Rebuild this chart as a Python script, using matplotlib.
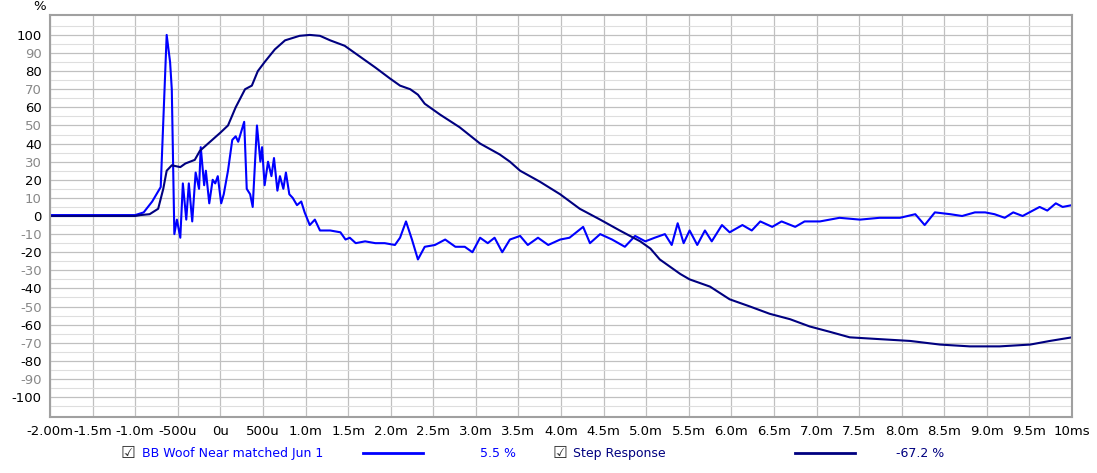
import matplotlib
matplotlib.use('Agg')
import matplotlib.pyplot as plt
import numpy as np

# impulse response (blue), time in ms, value in %
imp_t = [-2.0, -1.5, -1.0, -0.9, -0.8, -0.70, -0.63, -0.59, -0.57, -0.54, -0.51, -0.47, -0.44,
         -0.40, -0.37, -0.33, -0.29, -0.25, -0.23, -0.19, -0.17, -0.13, -0.09, -0.06, -0.03,
         0.01, 0.04, 0.09, 0.14, 0.18, 0.21, 0.28, 0.31, 0.35, 0.38, 0.43, 0.47, 0.49, 0.52,
         0.56, 0.60, 0.63, 0.67, 0.70, 0.74, 0.77, 0.81, 0.85, 0.90, 0.95, 0.99, 1.05, 1.11,
         1.17, 1.29, 1.41, 1.47, 1.52, 1.59, 1.70, 1.82, 1.93, 2.05, 2.11, 2.18, 2.25, 2.32,
         2.40, 2.52, 2.64, 2.76, 2.87, 2.96, 3.05, 3.14, 3.22, 3.31, 3.40, 3.52, 3.61, 3.73,
         3.85, 3.99, 4.10, 4.26, 4.34, 4.46, 4.60, 4.75, 4.87, 4.99, 5.10, 5.22, 5.30, 5.37,
         5.44, 5.51, 5.60, 5.69, 5.77, 5.89, 5.98, 6.13, 6.24, 6.34, 6.48, 6.59, 6.75, 6.86,
         7.04, 7.27, 7.51, 7.74, 7.98, 8.16, 8.27, 8.39, 8.57, 8.71, 8.86, 8.98, 9.09, 9.21,
         9.31, 9.42, 9.54, 9.62, 9.71, 9.81, 9.89, 10.0]
imp_v = [0.5, 0.5, 0.5, 2, 8, 16, 100, 85, 70, -10, -2, -12, 18,
         -2, 18, -3, 24, 15, 38, 17, 25, 7, 20, 18, 22,
         7, 12, 25, 42, 44, 41, 52, 15, 12, 5, 50, 30, 38, 17,
         30, 22, 32, 14, 22, 15, 24, 12, 10, 6, 8, 2, -5, -2,
         -8, -8, -9, -13, -12, -15, -14, -15, -15, -16, -12, -3, -13, -24,
         -17, -16, -13, -17, -17, -20, -12, -15, -12, -20, -13, -11, -16, -12,
         -16, -13, -12, -6, -15, -10, -13, -17, -11, -14, -12, -10, -16, -4,
         -15, -8, -16, -8, -14, -5, -9, -5, -8, -3, -6, -3, -6, -3,
         -3, -1, -2, -1, -1, 1, -5, 2, 1, 0, 2, 2, 1, -1,
         2, 0, 3, 5, 3, 7, 5, 6]

# step response (navy)
step_t = [-2.0, -1.0, -0.94, -0.83, -0.73, -0.67, -0.63, -0.57, -0.47, -0.41, -0.30, -0.24,
          -0.12, 0.0, 0.09, 0.18, 0.29, 0.37, 0.44, 0.52, 0.64, 0.76, 0.93, 1.05, 1.17, 1.29,
          1.46, 1.64, 1.82, 1.99, 2.11, 2.23, 2.32, 2.40, 2.58, 2.81, 3.05, 3.28, 3.40, 3.52,
          3.75, 3.99, 4.22, 4.46, 4.69, 4.93, 5.05, 5.16, 5.28, 5.40, 5.51, 5.75, 5.98, 6.22,
          6.45, 6.69, 6.92, 7.16, 7.39, 7.74, 8.10, 8.45, 8.80, 9.15, 9.51, 9.74, 10.0]
step_v = [0, 0, 0.5, 1, 4, 15, 25, 28, 27, 29, 31, 36,
          41, 46, 50, 60, 70, 72, 80, 85, 92, 97, 99.5, 100, 99.5, 97,
          94, 88, 82, 76, 72, 70, 67, 62, 56, 49, 40, 34, 30, 25,
          19, 12, 4, -2, -8, -14, -18, -24, -28, -32, -35, -39, -46, -50,
          -54, -57, -61, -64, -67, -68, -69, -71, -72, -72, -71, -69, -67]

x_ticks = np.arange(-2.0, 10.01, 0.5)
x_labels = ['-2.00m', '-1.5m', '-1.0m', '-500u', '0u', '500u', '1.0m', '1.5m', '2.0m', '2.5m',
            '3.0m', '3.5m', '4.0m', '4.5m', '5.0m', '5.5m', '6.0m', '6.5m', '7.0m', '7.5m',
            '8.0m', '8.5m', '9.0m', '9.5m', '10ms']

fig = plt.figure(figsize=(10.97, 4.73), dpi=100)
ax = fig.add_axes([50/1097, 56/473, 1022/1097, 402/473])

ax.plot(imp_t, imp_v, color='#0000ff', lw=1.5)
ax.plot(step_t, step_v, color='#000080', lw=1.5)

ax.set_xlim(-2.0, 10.0)
ax.set_ylim(-111, 111)
ax.set_xticks(x_ticks)
ax.set_xticklabels(x_labels, fontsize=9.5)
ax.set_yticks(np.arange(-100, 101, 10))
ax.set_yticks(np.arange(-105, 111, 10), minor=True)
ax.set_yticklabels([str(v) for v in range(-100, 101, 10)], fontsize=9.5)
for lab, v in zip(ax.get_yticklabels(), range(-100, 101, 10)):
    lab.set_color('black' if v % 20 == 0 else '#888888')
ax.tick_params(length=0, pad=6)
ax.tick_params(which='minor', length=0)
ax.grid(True, which='major', color='#c0c0c0', lw=0.9)
ax.grid(True, which='minor', axis='y', color='#dedede', lw=0.8)
for s in ax.spines.values():
    s.set_color('#a0a0a0')
    s.set_linewidth(1.5)

fig.text(33/1097, 1 - 7/473, '%', fontsize=9.5, ha='left', va='center')

# legend row
ly = 1 - 453/473
fig.text(128/1097, ly, '\u2611', fontsize=12, ha='center', va='center', color='#333333',
         fontfamily='DejaVu Sans')
fig.text(142/1097, ly, 'BB Woof Near matched Jun 1', fontsize=9, color='#0000ff', va='center')
fig.add_artist(plt.Line2D([363/1097, 423/1097], [ly, ly], color='#0000ff', lw=2))
fig.text(498/1097, ly, '5.5 %', fontsize=9, color='#0000ff', ha='center', va='center')
fig.text(560/1097, ly, '\u2611', fontsize=12, ha='center', va='center', color='#333333',
         fontfamily='DejaVu Sans')
fig.text(573/1097, ly, 'Step Response', fontsize=9, color='#000080', va='center')
fig.add_artist(plt.Line2D([795/1097, 855/1097], [ly, ly], color='#000080', lw=2))
fig.text(920/1097, ly, '-67.2 %', fontsize=9, color='#000080', ha='center', va='center')

fig.savefig('out.png', dpi=100)
